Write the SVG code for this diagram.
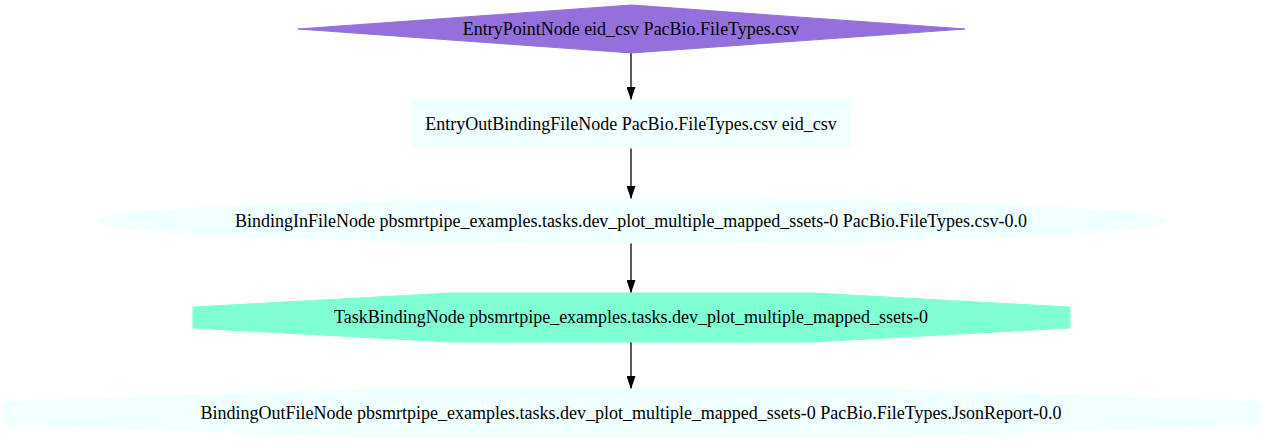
<svg xmlns="http://www.w3.org/2000/svg" width="1264" height="443" viewBox="0 0 1264 443">
<defs>
<style>
text{font-family:"Liberation Serif","Times New Roman",serif;font-size:18px;fill:#000;text-anchor:middle}
.azure{fill:#f0ffff;stroke:#f0ffff}
.edge{stroke:#000;stroke-width:1.3;fill:none}
</style>
<marker id="arr" viewBox="0 0 13 9" refX="13" refY="4.5" markerWidth="13" markerHeight="9" markerUnits="userSpaceOnUse" orient="auto">
<path d="M0,0 L13,4.5 L0,9 Z" fill="#000"/>
</marker>
</defs>
<rect width="1264" height="443" fill="#fff"/>
<g id="edges">
<line class="edge" x1="631" y1="53" x2="631" y2="100" marker-end="url(#arr)"/>
<line class="edge" x1="631" y1="148" x2="631" y2="199" marker-end="url(#arr)"/>
<line class="edge" x1="631" y1="243" x2="631" y2="293" marker-end="url(#arr)"/>
<line class="edge" x1="631" y1="342" x2="631" y2="389" marker-end="url(#arr)"/>
</g>
<g id="n1">
<polygon points="631.5,5 965,29 631.5,53 298,29" fill="#9370db" stroke="#9370db"/>
<text x="631" y="35">EntryPointNode eid_csv PacBio.FileTypes.csv</text>
</g>
<g id="n2">
<rect class="azure" x="412" y="100" width="438" height="48"/>
<text x="631" y="130">EntryOutBindingFileNode PacBio.FileTypes.csv eid_csv</text>
</g>
<g id="n3">
<ellipse class="azure" cx="632" cy="221" rx="535" ry="22"/>
<text x="631" y="227">BindingInFileNode pbsmrtpipe_examples.tasks.dev_plot_multiple_mapped_ssets-0 PacBio.FileTypes.csv-0.0</text>
</g>
<g id="n4">
<polygon points="1070,307 1070,328 813,342 450,342 193,328 193,307 450,293 813,293" fill="#7fffd4" stroke="#7fffd4"/>
<text x="631" y="323">TaskBindingNode pbsmrtpipe_examples.tasks.dev_plot_multiple_mapped_ssets-0</text>
</g>
<g id="n5">
<polygon class="azure" points="1260,402 1260,424 892,437 372,437 4,424 4,402 372,389 892,389"/>
<text x="631" y="419">BindingOutFileNode pbsmrtpipe_examples.tasks.dev_plot_multiple_mapped_ssets-0 PacBio.FileTypes.JsonReport-0.0</text>
</g>
</svg>
